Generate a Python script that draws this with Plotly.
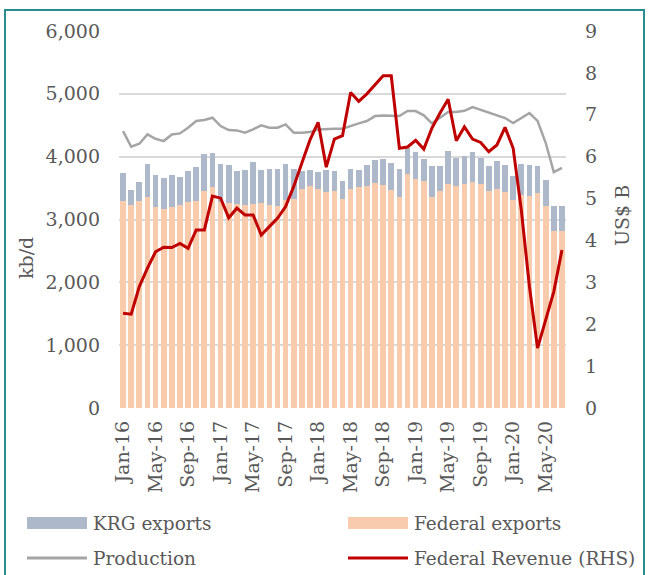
import plotly.graph_objects as go
import pandas as pd

# ---- data ----
months = pd.date_range("2016-01-01", periods=55, freq="MS").strftime("%b-%y").tolist()
tick_labels = months[::4]

federal_exports = [3290, 3226, 3290, 3365, 3200, 3169, 3200, 3226, 3274, 3290, 3461, 3520,
                   3274, 3264, 3248, 3237, 3253, 3264, 3226, 3211, 3317, 3333, 3493, 3541,
                   3490, 3432, 3448, 3333, 3488, 3525, 3541, 3583, 3557, 3477, 3365, 3732,
                   3652, 3620, 3365, 3461, 3573, 3527, 3573, 3603, 3573, 3447, 3493, 3431,
                   3303, 3383, 3381, 3429, 3211, 2823, 2823]
krg_exports = [453, 251, 314, 522, 511, 494, 511, 453, 501, 549, 579, 542,
               613, 601, 527, 554, 665, 527, 581, 596, 570, 474, 276, 244,
               269, 359, 327, 285, 319, 266, 330, 361, 403, 426, 442, 399,
               420, 340, 490, 394, 515, 446, 435, 469, 401, 406, 435, 434,
               389, 498, 484, 421, 419, 388, 388]
production = [4407, 4158, 4206, 4354, 4285, 4248, 4354, 4370, 4461, 4567, 4583, 4620,
              4487, 4423, 4418, 4381, 4434, 4498, 4461, 4461, 4514, 4381, 4381, 4391,
              4434, 4444, 4444, 4444, 4490, 4530, 4567, 4646, 4657, 4657, 4646, 4726,
              4726, 4657, 4530, 4620, 4710, 4710, 4730, 4790, 4745, 4708, 4665, 4615,
              4535, 4620, 4695, 4570, 4221, 3753, 3823]
federal_revenue = [2.26, 2.24, 2.90, 3.34, 3.73, 3.84, 3.83, 3.93, 3.81, 4.25, 4.25, 5.06,
                   5.01, 4.54, 4.77, 4.61, 4.61, 4.13, 4.33, 4.53, 4.81, 5.29, 5.85, 6.40,
                   6.82, 5.75, 6.42, 6.50, 7.53, 7.32, 7.50, 7.72, 7.93, 7.93, 6.20, 6.23,
                   6.39, 6.18, 6.68, 7.04, 7.37, 6.38, 6.71, 6.42, 6.34, 6.12, 6.28, 6.70,
                   6.20, 4.73, 2.90, 1.43, 2.10, 2.78, 3.77]

# ---- styling ----
FONT = "DejaVu Serif"
TXT = "#595959"
C_KRG = "#adb9ca"
C_FED = "#f8cbad"
C_PROD = "#a5a5a5"
C_REV = "#c00000"
FS = 19
FS_LEG = 18.5

W, H = 649, 575
L, R, T, B = 119, 566, 31, 408  # plot area in pixels


def px(x):
    return (x - L) / (R - L)


def py(y):
    return (B - y) / (B - T)


fig = go.Figure()
fig.add_trace(go.Bar(x=months, y=federal_exports, name="Federal exports",
                     marker=dict(color=C_FED, line=dict(width=0)), showlegend=False))
fig.add_trace(go.Bar(x=months, y=krg_exports, name="KRG exports",
                     marker=dict(color=C_KRG, line=dict(width=0)), showlegend=False))
fig.add_trace(go.Scatter(x=months, y=production, name="Production", mode="lines",
                         line=dict(color=C_PROD, width=2.5), showlegend=False))
fig.add_trace(go.Scatter(x=months, y=federal_revenue, name="Federal Revenue (RHS)",
                         mode="lines", line=dict(color=C_REV, width=3), yaxis="y2",
                         showlegend=False))

shapes = []
annotations = []

# outer teal frame
shapes.append(dict(type="rect", xref="paper", yref="paper",
                   x0=px(5), x1=px(644), y0=py(10), y1=py(600),
                   line=dict(color="#2a8c8c", width=2), fillcolor="rgba(0,0,0,0)", layer="below"))

# legend (drawn manually)
def legend_rect(x0, y, color):
    shapes.append(dict(type="rect", xref="paper", yref="paper",
                       x0=px(x0), x1=px(x0 + 60), y0=py(y - 6), y1=py(y + 6),
                       line=dict(width=0), fillcolor=color))


def legend_line(x0, y, color):
    shapes.append(dict(type="line", xref="paper", yref="paper",
                       x0=px(x0), x1=px(x0 + 60), y0=py(y), y1=py(y),
                       line=dict(color=color, width=3)))


def legend_text(x, y, text):
    annotations.append(dict(xref="paper", yref="paper", x=px(x), y=py(y), text=text,
                            showarrow=False, xanchor="left", yanchor="middle",
                            font=dict(family=FONT, size=FS_LEG, color=TXT)))


legend_rect(27, 523, C_KRG)
legend_text(91, 523, "KRG exports")
legend_rect(348, 523, C_FED)
legend_text(412, 523, "Federal exports")
legend_line(27, 558, C_PROD)
legend_text(91, 558, "Production")
legend_line(348, 558, C_REV)
legend_text(412, 558, "Federal Revenue (RHS)")

# axis titles
annotations.append(dict(xref="paper", yref="paper", x=px(26), y=py(258), text="kb/d",
                        textangle=-90, showarrow=False, xanchor="center", yanchor="middle",
                        font=dict(family=FONT, size=FS, color=TXT)))
annotations.append(dict(xref="paper", yref="paper", x=px(622), y=py(216), text="US$ B",
                        textangle=-90, showarrow=False, xanchor="center", yanchor="middle",
                        font=dict(family=FONT, size=FS, color=TXT)))

fig.update_layout(
    width=W, height=H,
    margin=dict(l=L, r=W - R, t=T, b=H - B, pad=0),
    paper_bgcolor="white", plot_bgcolor="white",
    barmode="stack", bargap=0.3,
    font=dict(family=FONT, size=FS, color=TXT),
    showlegend=False,
    shapes=shapes, annotations=annotations,
    xaxis=dict(type="category", tickmode="array", tickvals=tick_labels, ticktext=tick_labels,
               tickangle=-90, showgrid=False, showline=False, zeroline=False, ticks="",
               ticklabelstandoff=8, tickfont=dict(family=FONT, size=FS, color=TXT)),
    yaxis=dict(range=[0, 6000], dtick=1000, tickformat=",d", showgrid=True,
               gridcolor="#d9d9d9", gridwidth=1.5, zeroline=False, showline=False,
               ticks="", ticklabelstandoff=18,
               tickfont=dict(family=FONT, size=FS, color=TXT)),
    yaxis2=dict(range=[0, 9], dtick=1, overlaying="y", side="right", showgrid=False,
                zeroline=False, showline=False, ticks="", ticklabelstandoff=18,
                tickfont=dict(family=FONT, size=FS, color=TXT)),
)

fig.write_html("out.html")
